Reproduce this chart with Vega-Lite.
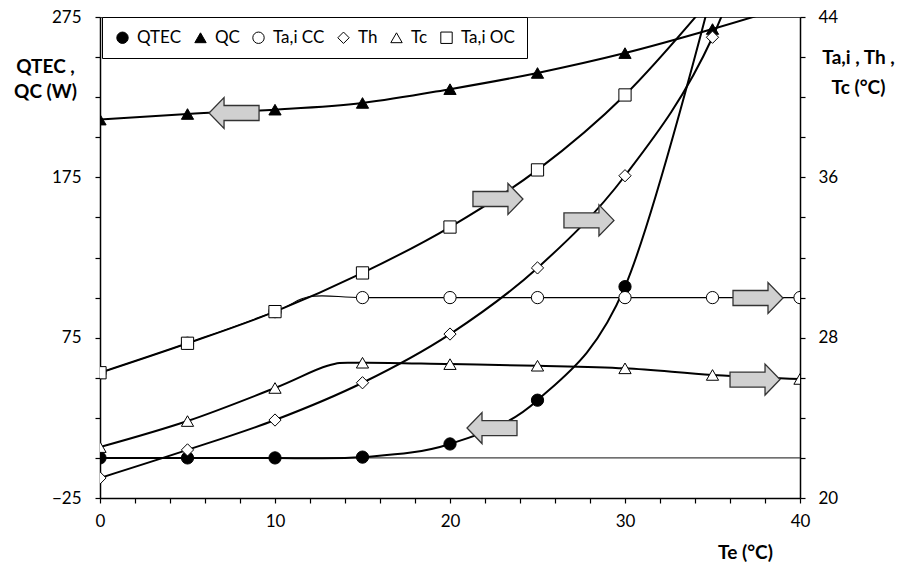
{
  "$schema": "https://vega.github.io/schema/vega-lite/v6.json",
  "width": 700,
  "height": 481,
  "autosize": {"type": "none"},
  "padding": {"left": 100, "top": 17, "right": 98, "bottom": 70},
  "background": "white",
  "config": {
    "font": "Lato",
    "view": {"stroke": "#404040", "strokeWidth": 1},
    "axis": {
      "labelFont": "Lato", "labelFontSize": 17, "labelColor": "#000",
      "titleFont": "Lato", "titleFontSize": 19, "titleFontWeight": "bold", "titleColor": "#000",
      "domainColor": "#000", "domainWidth": 1.5, "tickColor": "#000", "tickWidth": 1.2, "tickSize": 5,
      "grid": false, "titleAngle": 0, "titleAlign": "center", "titleBaseline": "alphabetic",
      "labelOverlap": false, "labelFlush": false
    },
    "axisX": {
      "values": [0,1,2,3,4,5,6,7,8,9,10,11,12,13,14,15,16,17,18,19,20,21,22,23,24,25,26,27,28,29,30,31,32,33,34,35,36,37,38,39,40],
      "labelExpr": "datum.value % 5 == 0 ? datum.label : ''",
      "titleX": 645, "titleY": 60, "labelPadding": 10
    },
    "legend": {
      "orient": "none", "direction": "horizontal", "padding": 12,
      "strokeColor": "#000", "fillColor": "#fff", "symbolStrokeColor": "#000", "symbolStrokeWidth": 1, "symbolSize": 130,
      "labelFont": "Lato", "labelFontSize": 17, "labelColor": "#000", "labelOffset": 6, "columnPadding": 10, "symbolOffset": 0
    }
  },
  "datasets": {
    "q": [
      {"s": "QTEC", "x": 0, "v": 0}, {"s": "QTEC", "x": 5, "v": 0}, {"s": "QTEC", "x": 10, "v": 0},
      {"s": "QTEC", "x": 15, "v": 0.5}, {"s": "QTEC", "x": 20, "v": 8.7}, {"s": "QTEC", "x": 25, "v": 36},
      {"s": "QTEC", "x": 30, "v": 106.8}, {"s": "QTEC", "x": 35, "v": 292},
      {"s": "QC", "x": 0, "v": 211}, {"s": "QC", "x": 5, "v": 214.5}, {"s": "QC", "x": 10, "v": 217.2},
      {"s": "QC", "x": 15, "v": 221.4}, {"s": "QC", "x": 20, "v": 230}, {"s": "QC", "x": 25, "v": 240.1},
      {"s": "QC", "x": 30, "v": 252.5}, {"s": "QC", "x": 35, "v": 267.5}, {"s": "QC", "x": 40, "v": 284}
    ],
    "t": [
      {"s": "Ta,i CC", "x": 0, "v": 26.25}, {"s": "Ta,i CC", "x": 5, "v": 27.72}, {"s": "Ta,i CC", "x": 10, "v": 29.3},
      {"s": "Ta,i CC", "x": 12, "v": 30.05}, {"s": "Ta,i CC", "x": 15, "v": 30}, {"s": "Ta,i CC", "x": 20, "v": 30},
      {"s": "Ta,i CC", "x": 25, "v": 30}, {"s": "Ta,i CC", "x": 30, "v": 30}, {"s": "Ta,i CC", "x": 35, "v": 30},
      {"s": "Ta,i CC", "x": 40, "v": 30},
      {"s": "Th", "x": 0, "v": 21.0}, {"s": "Th", "x": 5, "v": 22.4}, {"s": "Th", "x": 10, "v": 23.89},
      {"s": "Th", "x": 15, "v": 25.75}, {"s": "Th", "x": 20, "v": 28.18}, {"s": "Th", "x": 25, "v": 31.48},
      {"s": "Th", "x": 30, "v": 36.08}, {"s": "Th", "x": 35, "v": 42.99}, {"s": "Th", "x": 40, "v": 55},
      {"s": "Tc", "x": 0, "v": 22.54}, {"s": "Tc", "x": 5, "v": 23.84}, {"s": "Tc", "x": 10, "v": 25.49},
      {"s": "Tc", "x": 13, "v": 26.6}, {"s": "Tc", "x": 15, "v": 26.75}, {"s": "Tc", "x": 20, "v": 26.68},
      {"s": "Tc", "x": 25, "v": 26.6}, {"s": "Tc", "x": 30, "v": 26.47}, {"s": "Tc", "x": 35, "v": 26.14},
      {"s": "Tc", "x": 40, "v": 25.94},
      {"s": "Ta,i OC", "x": 0, "v": 26.25}, {"s": "Ta,i OC", "x": 5, "v": 27.72}, {"s": "Ta,i OC", "x": 10, "v": 29.3},
      {"s": "Ta,i OC", "x": 15, "v": 31.23}, {"s": "Ta,i OC", "x": 20, "v": 33.52}, {"s": "Ta,i OC", "x": 25, "v": 36.37},
      {"s": "Ta,i OC", "x": 30, "v": 40.11}, {"s": "Ta,i OC", "x": 35, "v": 45}
    ],
    "arrows": [
      {"x": 7.66, "t": 39.21, "dir": "left"},
      {"x": 22.4, "t": 23.49, "dir": "left"},
      {"x": 22.74, "t": 34.92, "dir": "right"},
      {"x": 27.94, "t": 33.85, "dir": "right"},
      {"x": 37.6, "t": 29.98, "dir": "right"},
      {"x": 37.43, "t": 25.91, "dir": "right"}
    ]
  },
  "layer": [
    {
      "data": {"name": "q"},
      "layer": [
        {
          "data": {"values": [{}]},
          "mark": {"type": "rule", "color": "#404040", "strokeWidth": 1.2},
          "encoding": {
            "y": {"datum": 0, "type": "quantitative", "scale": {"domain": [-25, 275], "nice": false, "zero": false},
              "axis": {"orient": "left", "values": [-25,0,25,50,75,100,125,150,175,200,225,250,275],
                "labelExpr": "(datum.value + 25) % 100 == 0 ? datum.label : ''",
                "title": ["QTEC ,", "QC (W)"], "titleX": -55, "titleY": 55, "titleLineHeight": 25, "labelPadding": 14}}
          }
        },
        {
          "mark": {"type": "line", "interpolate": "cardinal", "clip": true, "color": "#000", "strokeWidth": 2},
          "encoding": {
            "x": {"field": "x", "type": "quantitative", "scale": {"domain": [0, 40], "nice": false, "zero": false}, "title": "Te (°C)"},
            "y": {"field": "v", "type": "quantitative", "scale": {"domain": [-25, 275], "nice": false, "zero": false},
              "axis": {"orient": "left", "values": [-25,0,25,50,75,100,125,150,175,200,225,250,275],
                "labelExpr": "(datum.value + 25) % 100 == 0 ? datum.label : ''",
                "title": ["QTEC ,", "QC (W)"], "titleX": -55, "titleY": 55, "titleLineHeight": 25, "labelPadding": 14}},
            "detail": {"field": "s"}
          }
        },
        {
          "transform": [{"filter": "datum.x % 5 == 0"}],
          "mark": {"type": "point", "filled": true, "strokeWidth": 1, "opacity": 1, "clip": true, "size": 150},
          "encoding": {
            "x": {"field": "x", "type": "quantitative", "scale": {"domain": [0, 40], "nice": false, "zero": false}, "title": "Te (°C)"},
            "y": {"field": "v", "type": "quantitative", "scale": {"domain": [-25, 275], "nice": false, "zero": false},
              "axis": {"orient": "left", "values": [-25,0,25,50,75,100,125,150,175,200,225,250,275],
                "labelExpr": "(datum.value + 25) % 100 == 0 ? datum.label : ''",
                "title": ["QTEC ,", "QC (W)"], "titleX": -55, "titleY": 55, "titleLineHeight": 25, "labelPadding": 14}},
            "shape": {"field": "s", "type": "nominal",
              "scale": {"domain": ["QTEC", "QC", "Ta,i CC", "Th", "Tc", "Ta,i OC"], "range": ["circle", "triangle-up", "circle", "diamond", "triangle-up", "square"]},
              "legend": {"title": null, "legendX": 2, "legendY": 0}},
            "fill": {"field": "s", "type": "nominal",
              "scale": {"domain": ["QTEC", "QC", "Ta,i CC", "Th", "Tc", "Ta,i OC"], "range": ["#000", "#000", "#fff", "#fff", "#fff", "#fff"]},
              "legend": {"title": null, "legendX": 2, "legendY": 0}},
            "stroke": {"field": "s", "type": "nominal",
              "scale": {"domain": ["QTEC", "QC", "Ta,i CC", "Th", "Tc", "Ta,i OC"], "range": ["#000", "#000", "#000", "#000", "#000", "#000"]},
              "legend": {"title": null, "legendX": 2, "legendY": 0}}
          }
        }
      ]
    },
    {
      "data": {"name": "t"},
      "layer": [
        {
          "transform": [{"filter": "datum.s != 'Ta,i CC'"}],
          "mark": {"type": "line", "interpolate": "cardinal", "clip": true, "color": "#000", "strokeWidth": 2},
          "encoding": {
            "x": {"field": "x", "type": "quantitative", "scale": {"domain": [0, 40], "nice": false, "zero": false}, "title": "Te (°C)"},
            "y": {"field": "v", "type": "quantitative", "scale": {"domain": [20, 44], "nice": false, "zero": false},
              "axis": {"orient": "right", "values": [20,22,24,26,28,30,32,34,36,38,40,42,44],
                "labelExpr": "(datum.value - 20) % 8 == 0 ? datum.label : ''",
                "title": ["Ta,i , Th ,", "Tc (°C)"], "titleX": 58, "titleY": 46, "titleLineHeight": 30, "labelPadding": 13}},
            "detail": {"field": "s"}
          }
        },
        {
          "transform": [{"filter": "datum.s == 'Ta,i CC'"}],
          "mark": {"type": "line", "interpolate": "cardinal", "clip": true, "color": "#000", "strokeWidth": 1.1},
          "encoding": {
            "x": {"field": "x", "type": "quantitative", "scale": {"domain": [0, 40], "nice": false, "zero": false}, "title": "Te (°C)"},
            "y": {"field": "v", "type": "quantitative", "scale": {"domain": [20, 44], "nice": false, "zero": false},
              "axis": {"orient": "right", "values": [20,22,24,26,28,30,32,34,36,38,40,42,44],
                "labelExpr": "(datum.value - 20) % 8 == 0 ? datum.label : ''",
                "title": ["Ta,i , Th ,", "Tc (°C)"], "titleX": 58, "titleY": 46, "titleLineHeight": 30, "labelPadding": 13}}
          }
        },
        {
          "transform": [{"filter": "datum.x % 5 == 0"}],
          "mark": {"type": "point", "filled": true, "strokeWidth": 1, "opacity": 1, "clip": true, "size": 150},
          "encoding": {
            "x": {"field": "x", "type": "quantitative", "scale": {"domain": [0, 40], "nice": false, "zero": false}, "title": "Te (°C)"},
            "y": {"field": "v", "type": "quantitative", "scale": {"domain": [20, 44], "nice": false, "zero": false},
              "axis": {"orient": "right", "values": [20,22,24,26,28,30,32,34,36,38,40,42,44],
                "labelExpr": "(datum.value - 20) % 8 == 0 ? datum.label : ''",
                "title": ["Ta,i , Th ,", "Tc (°C)"], "titleX": 58, "titleY": 46, "titleLineHeight": 30, "labelPadding": 13}},
            "shape": {"field": "s", "type": "nominal",
              "scale": {"domain": ["QTEC", "QC", "Ta,i CC", "Th", "Tc", "Ta,i OC"], "range": ["circle", "triangle-up", "circle", "diamond", "triangle-up", "square"]},
              "legend": {"title": null, "legendX": 2, "legendY": 0}},
            "fill": {"field": "s", "type": "nominal",
              "scale": {"domain": ["QTEC", "QC", "Ta,i CC", "Th", "Tc", "Ta,i OC"], "range": ["#000", "#000", "#fff", "#fff", "#fff", "#fff"]},
              "legend": {"title": null, "legendX": 2, "legendY": 0}},
            "stroke": {"field": "s", "type": "nominal",
              "scale": {"domain": ["QTEC", "QC", "Ta,i CC", "Th", "Tc", "Ta,i OC"], "range": ["#000", "#000", "#000", "#000", "#000", "#000"]},
              "legend": {"title": null, "legendX": 2, "legendY": 0}}
          }
        },
        {
          "data": {"name": "arrows"},
          "transform": [{"filter": "datum.dir == 'left'"}],
          "mark": {"type": "point", "shape": "M1,-0.3L-0.4,-0.3L-0.4,-0.62L-1,0L-0.4,0.62L-0.4,0.3L1,0.3Z", "size": 2500, "filled": true, "fill": "#d0d0d0", "stroke": "#333", "strokeWidth": 1.3, "opacity": 1},
          "encoding": {
            "x": {"field": "x", "type": "quantitative", "scale": {"domain": [0, 40], "nice": false, "zero": false}, "title": "Te (°C)"},
            "y": {"field": "t", "type": "quantitative", "scale": {"domain": [20, 44], "nice": false, "zero": false},
              "axis": {"orient": "right", "values": [20,22,24,26,28,30,32,34,36,38,40,42,44],
                "labelExpr": "(datum.value - 20) % 8 == 0 ? datum.label : ''",
                "title": ["Ta,i , Th ,", "Tc (°C)"], "titleX": 58, "titleY": 46, "titleLineHeight": 30, "labelPadding": 13}}
          }
        },
        {
          "data": {"name": "arrows"},
          "transform": [{"filter": "datum.dir == 'right'"}],
          "mark": {"type": "point", "shape": "M-1,-0.3L0.4,-0.3L0.4,-0.62L1,0L0.4,0.62L0.4,0.3L-1,0.3Z", "size": 2500, "filled": true, "fill": "#d0d0d0", "stroke": "#333", "strokeWidth": 1.3, "opacity": 1},
          "encoding": {
            "x": {"field": "x", "type": "quantitative", "scale": {"domain": [0, 40], "nice": false, "zero": false}, "title": "Te (°C)"},
            "y": {"field": "t", "type": "quantitative", "scale": {"domain": [20, 44], "nice": false, "zero": false},
              "axis": {"orient": "right", "values": [20,22,24,26,28,30,32,34,36,38,40,42,44],
                "labelExpr": "(datum.value - 20) % 8 == 0 ? datum.label : ''",
                "title": ["Ta,i , Th ,", "Tc (°C)"], "titleX": 58, "titleY": 46, "titleLineHeight": 30, "labelPadding": 13}}
          }
        }
      ]
    }
  ],
  "resolve": {"scale": {"y": "independent"}}
}
